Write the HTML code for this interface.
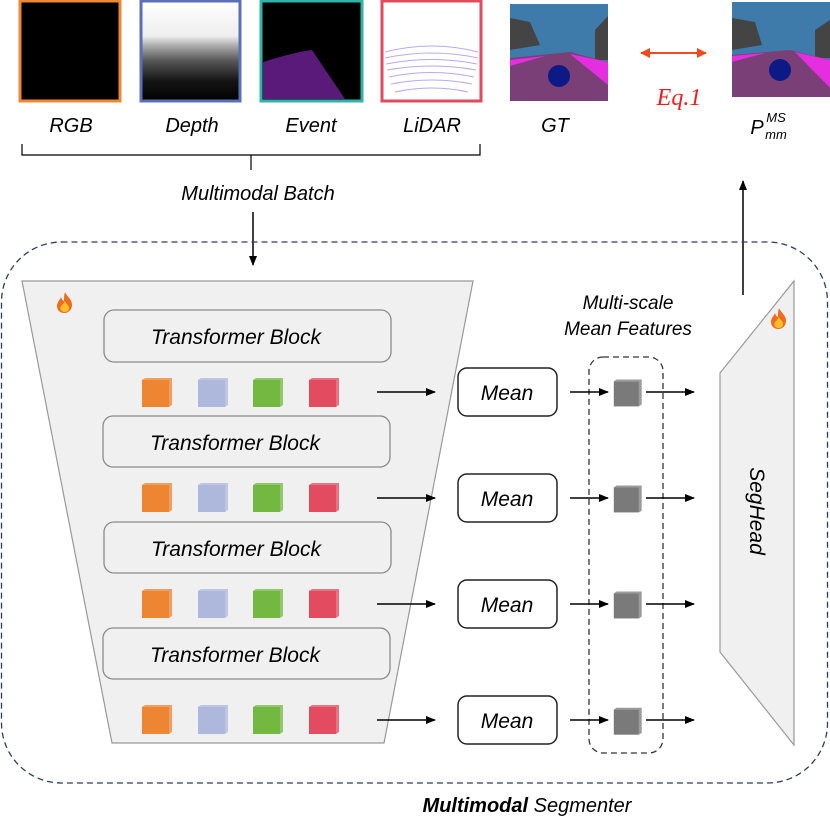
<!DOCTYPE html>
<html><head><meta charset="utf-8"><style>
html,body{margin:0;padding:0;background:#fff;}
svg{display:block;font-family:"Liberation Sans",sans-serif;}
</style></head><body>
<svg width="830" height="826" viewBox="0 0 830 826" xmlns="http://www.w3.org/2000/svg">
<defs>
<marker id="ah" markerWidth="10" markerHeight="8" refX="9" refY="4" orient="auto" markerUnits="userSpaceOnUse"><path d="M0,0 L10,4 L0,8 z" fill="#000"/></marker>
<marker id="rh" markerWidth="10" markerHeight="10" refX="9" refY="5" orient="auto-start-reverse" markerUnits="userSpaceOnUse"><path d="M0,0 L10,5 L0,10 z" fill="#f04a1e"/></marker>
<linearGradient id="dg" x1="0" y1="0" x2="0" y2="1"><stop offset="0" stop-color="#fff"/><stop offset="0.35" stop-color="#eee"/><stop offset="0.45" stop-color="#aaa"/><stop offset="0.6" stop-color="#555"/><stop offset="0.8" stop-color="#151515"/><stop offset="1" stop-color="#000"/></linearGradient>
<g id="cube"><rect x="0" y="2" width="27" height="27" fill="currentColor"/><path d="M0,2 L3,0 L30,0 L27,2z M27,2 L30,0 L30,27 L27,29z" fill="currentColor" opacity="0.75"/></g>
<g id="flame"><path d="M8,0 C10,5 15,7 15,13 C15,18 11,21 7.5,21 C3,21 0,18 0,14 C0,10 3,8 4,5 C5,8 6,9 7,9 C7,6 7,3 8,0z" fill="#f26a1b"/><path d="M8,9 C9,12 12,13 12,16 C12,19 10,20 7.5,20 C5,20 3,18 3.5,15.5 C4,13.5 6,12.5 8,9z" fill="#fbbf2e"/></g>
</defs>

<!-- Modality images -->
<rect x="20" y="1" width="100" height="100" fill="#000" stroke="#ef8833" stroke-width="3"/>
<rect x="141" y="1" width="99" height="100" fill="url(#dg)" stroke="#5b6eb8" stroke-width="3"/>
<rect x="261" y="1" width="101" height="100" fill="#000" stroke="#2fb5a8" stroke-width="3"/>
<path d="M263,62 Q295,52 312,50 L345,99 L263,99z" fill="#5a1a7a"/>
<rect x="382" y="1" width="99" height="100" fill="#fff" stroke="#e24a5e" stroke-width="3"/>
<g fill="none" stroke="#b9a8f0" stroke-width="1">
<path d="M385,52 Q432,40 478,52"/><path d="M385,58 Q432,48 478,58"/><path d="M386,64 Q432,55 477,64"/><path d="M387,70 Q432,62 476,70"/><path d="M389,77 Q432,68 474,77"/><path d="M391,84 Q432,76 472,84"/><path d="M395,92 Q432,84 468,92"/>
</g>
<!-- GT -->
<rect x="510" y="4" width="98" height="97" fill="#3e7bab"/>
<path d="M510,18 L530,22 L540,45 L510,50z" fill="#444"/>
<path d="M608,16 L595,30 L595,60 L608,60z" fill="#444"/>
<path d="M510,58 L570,52 L608,62 L608,101 L510,101z" fill="#7b3f78"/>
<path d="M570,54 L608,62 L608,85z" fill="#e42ee0"/>
<path d="M510,60 L545,56 L510,66z" fill="#e42ee0"/>
<ellipse cx="559" cy="76" rx="11" ry="11" fill="#0b1a84"/>
<!-- Pred -->
<rect x="732" y="2" width="98" height="95" fill="#3e7bab"/>
<path d="M732,18 L755,22 L762,45 L732,50z" fill="#444"/>
<path d="M830,20 L815,30 L815,58 L830,58z" fill="#444"/>
<path d="M732,55 L790,50 L830,60 L830,97 L732,97z" fill="#7b3f78"/>
<path d="M795,52 L830,60 L830,88z" fill="#e42ee0"/>
<path d="M732,56 L765,53 L732,62z" fill="#e42ee0"/>
<ellipse cx="780" cy="70" rx="11" ry="11" fill="#0b1a84"/>

<g font-style="italic" font-size="20" text-anchor="middle" fill="#000">
<text x="71" y="132">RGB</text>
<text x="192" y="132">Depth</text>
<text x="311" y="132">Event</text>
<text x="432" y="132">LiDAR</text>
<text x="555" y="132">GT</text>
<text x="757" y="134">P</text>
<text x="776" y="122" font-size="13">MS</text>
<text x="776" y="139" font-size="13">mm</text>
</g>
<line x1="641" y1="53" x2="706" y2="53" stroke="#f04a1e" stroke-width="2" marker-start="url(#rh)" marker-end="url(#rh)"/>
<text x="679" y="105" font-family="Liberation Serif,serif" font-style="italic" font-size="24" fill="#ee1c1c" text-anchor="middle">Eq.1</text>

<!-- brace -->
<path d="M22,144 L22,155 L251,155 L251,170 M251,155 L480,155 L480,144" fill="none" stroke="#000" stroke-width="1.2"/>
<text x="258" y="200" font-style="italic" font-size="20" text-anchor="middle">Multimodal Batch</text>
<line x1="253" y1="212" x2="253" y2="265" stroke="#000" stroke-width="1.5" marker-end="url(#ah)"/>
<line x1="743" y1="295" x2="743" y2="181" stroke="#000" stroke-width="1.5" marker-end="url(#ah)"/>

<!-- outer dashed -->
<rect x="1.5" y="242" width="826" height="541" rx="60" fill="none" stroke="#2c3d60" stroke-width="1.3" stroke-dasharray="6,4"/>

<!-- encoder trapezoid -->
<polygon points="22,281 473,281 384,743 112,743" fill="#f0f0f0" stroke="#999" stroke-width="1.2"/>
<use href="#flame" x="57" y="292"/>
<g fill="#f0f0f0" stroke="#8a8a8a" stroke-width="1.3">
<rect x="104" y="310" width="287" height="52" rx="10"/>
<rect x="103" y="416" width="287" height="51" rx="10"/>
<rect x="104" y="522" width="287" height="51" rx="10"/>
<rect x="103" y="628" width="287" height="51" rx="10"/>
</g>
<g font-style="italic" font-size="21" text-anchor="middle" fill="#000">
<text x="236" y="344">Transformer Block</text>
<text x="235" y="450">Transformer Block</text>
<text x="236" y="556">Transformer Block</text>
<text x="235" y="662">Transformer Block</text>
</g>
<g>
<g transform="translate(0,378)"><use href="#cube" x="142" color="#ee8533"/><use href="#cube" x="198" color="#aeb8dd"/><use href="#cube" x="253" color="#73b941"/><use href="#cube" x="309" color="#e34c60"/></g>
<g transform="translate(0,483)"><use href="#cube" x="142" color="#ee8533"/><use href="#cube" x="198" color="#aeb8dd"/><use href="#cube" x="253" color="#73b941"/><use href="#cube" x="309" color="#e34c60"/></g>
<g transform="translate(0,589)"><use href="#cube" x="142" color="#ee8533"/><use href="#cube" x="198" color="#aeb8dd"/><use href="#cube" x="253" color="#73b941"/><use href="#cube" x="309" color="#e34c60"/></g>
<g transform="translate(0,705)"><use href="#cube" x="142" color="#ee8533"/><use href="#cube" x="198" color="#aeb8dd"/><use href="#cube" x="253" color="#73b941"/><use href="#cube" x="309" color="#e34c60"/></g>
</g>

<!-- Mean column -->
<text x="628" y="309" font-style="italic" font-size="19" text-anchor="middle">Multi-scale</text>
<text x="628" y="335" font-style="italic" font-size="19" text-anchor="middle">Mean Features</text>
<rect x="589" y="357" width="74" height="396" rx="14" fill="none" stroke="#333" stroke-width="1.3" stroke-dasharray="6,4"/>
<g stroke="#000" stroke-width="1.5">
<line x1="377" y1="392" x2="435" y2="392" marker-end="url(#ah)"/>
<line x1="377" y1="498" x2="435" y2="498" marker-end="url(#ah)"/>
<line x1="377" y1="604" x2="435" y2="604" marker-end="url(#ah)"/>
<line x1="377" y1="720" x2="435" y2="720" marker-end="url(#ah)"/>
<line x1="570" y1="392" x2="608" y2="392" marker-end="url(#ah)"/>
<line x1="570" y1="498" x2="608" y2="498" marker-end="url(#ah)"/>
<line x1="570" y1="604" x2="608" y2="604" marker-end="url(#ah)"/>
<line x1="570" y1="720" x2="608" y2="720" marker-end="url(#ah)"/>
<line x1="646" y1="392" x2="694" y2="392" marker-end="url(#ah)"/>
<line x1="646" y1="498" x2="694" y2="498" marker-end="url(#ah)"/>
<line x1="646" y1="604" x2="694" y2="604" marker-end="url(#ah)"/>
<line x1="646" y1="720" x2="694" y2="720" marker-end="url(#ah)"/>
</g>
<g fill="#fff" stroke="#222" stroke-width="1.5">
<rect x="458" y="368" width="99" height="48" rx="9"/>
<rect x="458" y="474" width="99" height="48" rx="9"/>
<rect x="458" y="580" width="99" height="48" rx="9"/>
<rect x="458" y="696" width="99" height="48" rx="9"/>
</g>
<g font-style="italic" font-size="21" text-anchor="middle">
<text x="507" y="400">Mean</text>
<text x="507" y="506">Mean</text>
<text x="507" y="612">Mean</text>
<text x="507" y="728">Mean</text>
</g>
<g color="#7a7a7a" transform="scale(0.93)">
<use href="#cube" x="660" y="408"/>
<use href="#cube" x="660" y="522"/>
<use href="#cube" x="660" y="636"/>
<use href="#cube" x="660" y="761"/>
</g>

<!-- SegHead -->
<polygon points="720,373 794,281 794,745 720,652" fill="#f0f0f0" stroke="#999" stroke-width="1.2"/>
<use href="#flame" x="771" y="308"/>
<text transform="translate(750,511) rotate(90)" font-style="italic" font-size="21" text-anchor="middle">SegHead</text>

<text x="527" y="812" font-style="italic" font-size="20" text-anchor="middle"><tspan font-weight="bold">Multimodal</tspan> Segmenter</text>
</svg>
</body></html>
